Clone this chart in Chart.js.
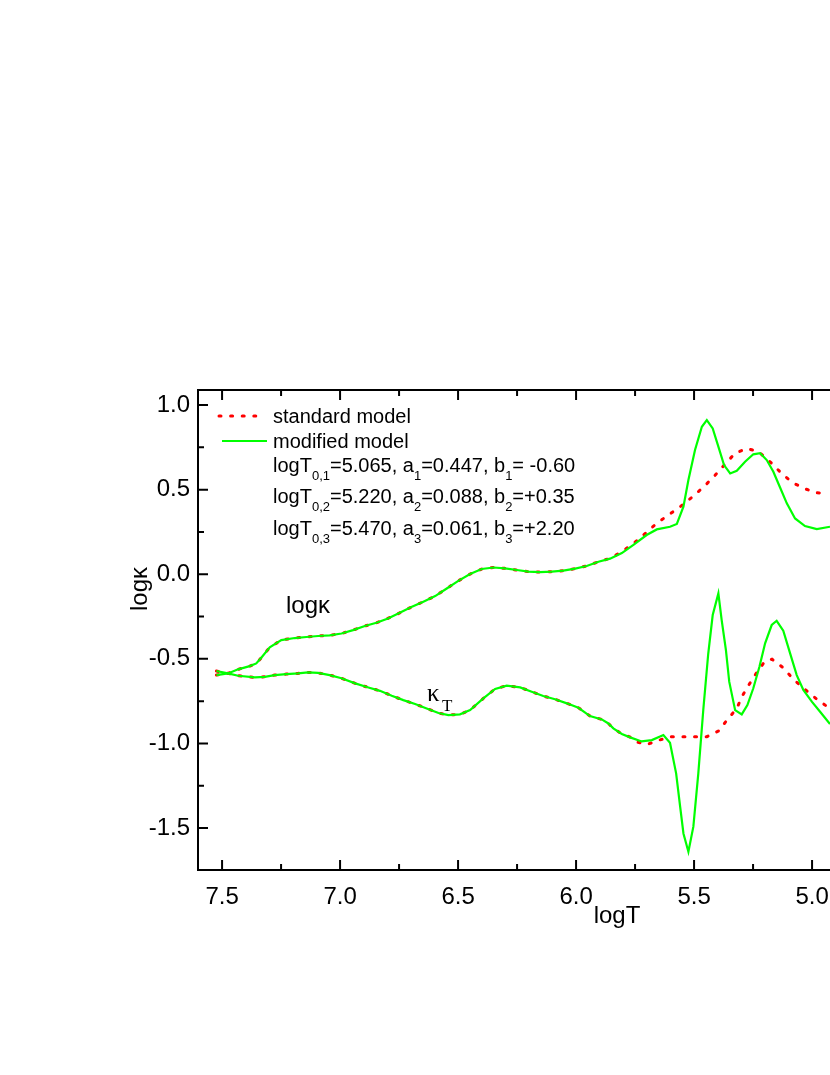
<!DOCTYPE html>
<html>
<head>
<meta charset="utf-8">
<script src="https://cdn.jsdelivr.net/npm/chart.js@4.4.1/dist/chart.umd.min.js"></script>
<style>
  html, body { margin: 0; padding: 0; background: #fff; }
</style>
</head>
<body>
<canvas id="opacityChart" width="830" height="1075"></canvas>
<script>
// --- Data (x = logT, y = log kappa) ---

// standard model, log kappa
const stdKappaT = [7.524, 7.475, 7.432, 7.383, 7.355, 7.333, 7.298, 7.249, 7.192, 7.143, 7.093, 7.044, 6.994, 6.945, 6.895, 6.846, 6.797, 6.747, 6.698, 6.647, 6.597, 6.548, 6.499, 6.449, 6.400, 6.350, 6.301, 6.251, 6.202, 6.153, 6.103, 6.054, 6.004, 5.955, 5.905, 5.856, 5.806, 5.757, 5.708, 5.658, 5.609, 5.559, 5.510, 5.461, 5.414, 5.369, 5.326, 5.277, 5.227, 5.178, 5.129, 5.082, 5.034, 4.987, 4.938];
const stdKappa = [-0.596, -0.586, -0.562, -0.543, -0.527, -0.492, -0.432, -0.389, -0.377, -0.371, -0.365, -0.361, -0.350, -0.330, -0.306, -0.287, -0.261, -0.228, -0.194, -0.162, -0.129, -0.084, -0.039, 0.001, 0.031, 0.040, 0.035, 0.025, 0.015, 0.013, 0.015, 0.021, 0.033, 0.049, 0.074, 0.094, 0.133, 0.182, 0.240, 0.301, 0.350, 0.399, 0.454, 0.514, 0.580, 0.651, 0.715, 0.744, 0.724, 0.665, 0.596, 0.541, 0.508, 0.482, 0.478];

// modified model, log kappa
const modKappaT = [7.524, 7.475, 7.432, 7.383, 7.355, 7.333, 7.298, 7.249, 7.192, 7.143, 7.093, 7.044, 6.994, 6.945, 6.895, 6.846, 6.797, 6.747, 6.698, 6.647, 6.597, 6.548, 6.499, 6.449, 6.400, 6.350, 6.301, 6.251, 6.202, 6.153, 6.103, 6.054, 6.004, 5.955, 5.905, 5.856, 5.806, 5.757, 5.701, 5.658, 5.602, 5.573, 5.545, 5.524, 5.496, 5.467, 5.446, 5.421, 5.397, 5.373, 5.347, 5.319, 5.284, 5.249, 5.220, 5.192, 5.164, 5.136, 5.107, 5.072, 5.030, 4.980, 4.924];
const modKappa = [-0.596, -0.586, -0.562, -0.543, -0.527, -0.492, -0.432, -0.389, -0.377, -0.371, -0.365, -0.361, -0.350, -0.330, -0.306, -0.287, -0.261, -0.228, -0.194, -0.162, -0.129, -0.084, -0.039, 0.001, 0.031, 0.040, 0.035, 0.025, 0.015, 0.013, 0.015, 0.021, 0.033, 0.049, 0.074, 0.092, 0.125, 0.173, 0.232, 0.265, 0.281, 0.297, 0.399, 0.557, 0.734, 0.872, 0.911, 0.862, 0.754, 0.645, 0.596, 0.612, 0.665, 0.709, 0.715, 0.675, 0.606, 0.514, 0.419, 0.330, 0.285, 0.267, 0.281];

// standard model, kappa_T
const stdKtT = [7.524, 7.475, 7.432, 7.361, 7.319, 7.277, 7.228, 7.178, 7.136, 7.093, 7.044, 6.994, 6.936, 6.880, 6.831, 6.781, 6.732, 6.682, 6.633, 6.583, 6.541, 6.492, 6.449, 6.393, 6.343, 6.294, 6.237, 6.188, 6.139, 6.089, 6.039, 5.990, 5.941, 5.891, 5.863, 5.842, 5.806, 5.771, 5.746, 5.699, 5.647, 5.595, 5.545, 5.496, 5.446, 5.397, 5.358, 5.319, 5.295, 5.266, 5.235, 5.200, 5.170, 5.122, 5.079, 5.030, 4.980, 4.931];
const stdKt = [-0.572, -0.586, -0.600, -0.610, -0.606, -0.596, -0.590, -0.586, -0.580, -0.583, -0.596, -0.615, -0.645, -0.669, -0.689, -0.718, -0.744, -0.767, -0.793, -0.820, -0.832, -0.828, -0.803, -0.734, -0.678, -0.658, -0.669, -0.694, -0.720, -0.739, -0.763, -0.789, -0.838, -0.858, -0.882, -0.911, -0.944, -0.962, -0.990, -1.006, -0.980, -0.960, -0.960, -0.960, -0.960, -0.927, -0.858, -0.793, -0.718, -0.650, -0.582, -0.515, -0.502, -0.553, -0.621, -0.681, -0.738, -0.787];

// modified model, kappa_T
const modKtT = [7.524, 7.475, 7.432, 7.361, 7.319, 7.277, 7.228, 7.178, 7.136, 7.093, 7.044, 6.994, 6.936, 6.880, 6.831, 6.781, 6.732, 6.682, 6.633, 6.583, 6.541, 6.492, 6.449, 6.393, 6.343, 6.294, 6.237, 6.188, 6.139, 6.089, 6.039, 5.990, 5.941, 5.891, 5.863, 5.842, 5.806, 5.771, 5.722, 5.679, 5.630, 5.602, 5.576, 5.559, 5.545, 5.524, 5.503, 5.482, 5.461, 5.440, 5.421, 5.397, 5.383, 5.365, 5.351, 5.326, 5.298, 5.274, 5.249, 5.223, 5.199, 5.171, 5.150, 5.122, 5.093, 5.065, 5.037, 5.001, 4.966, 4.924];
const modKt = [-0.572, -0.586, -0.600, -0.610, -0.606, -0.596, -0.590, -0.586, -0.580, -0.583, -0.596, -0.615, -0.645, -0.669, -0.689, -0.718, -0.744, -0.767, -0.793, -0.820, -0.832, -0.828, -0.803, -0.734, -0.678, -0.658, -0.669, -0.694, -0.720, -0.739, -0.763, -0.789, -0.838, -0.858, -0.882, -0.911, -0.944, -0.964, -0.988, -0.980, -0.950, -0.996, -1.177, -1.374, -1.532, -1.640, -1.492, -1.177, -0.803, -0.470, -0.241, -0.113, -0.271, -0.448, -0.635, -0.803, -0.828, -0.773, -0.674, -0.547, -0.408, -0.300, -0.275, -0.334, -0.468, -0.596, -0.684, -0.753, -0.813, -0.885];

// axis ranges and ticks
const xRange = [4.924, 7.602];
const yRange = [-1.748, 1.089];
const tickStep = 0.25;

// legend / annotation texts (subscripts marked with `sub`)
const legendLabels = ['standard model', 'modified model'];
const paramLines = [
  [['logT'], ['0,1', 'sub'], ['=5.065, a'], ['1', 'sub'], ['=0.447, b'], ['1', 'sub'], ['= -0.60']],
  [['logT'], ['0,2', 'sub'], ['=5.220, a'], ['2', 'sub'], ['=0.088, b'], ['2', 'sub'], ['=+0.35']],
  [['logT'], ['0,3', 'sub'], ['=5.470, a'], ['3', 'sub'], ['=0.061, b'], ['3', 'sub'], ['=+2.20']]
];

const SANS = '"Liberation Sans", Arial, sans-serif';
const SERIF = '"Liberation Serif", "Times New Roman", serif';
const RED = '#ff0000';
const GREEN = '#00ff00';

function toPoints(xs, ys) {
  return xs.map((x, i) => ({ x, y: ys[i] }));
}

function isMajor(v) {
  return Math.abs(v * 2 - Math.round(v * 2)) < 1e-6;
}

const greenStyle = { borderColor: GREEN, borderWidth: 2.2 };
const redStyle = { borderColor: RED, borderWidth: 3, borderDash: [2, 9.6], borderCapStyle: 'round' };

/**
 * Frame, inward ticks, legend and labels
 */
const decorPlugin = {
  id: 'decor',
  afterDraw(chart) {
    const { ctx, chartArea: a, scales } = chart;
    const xs = scales.x, ys = scales.y;
    ctx.save();

    // frame (left, top, bottom) - right side is cut off in the original
    ctx.strokeStyle = '#000';
    ctx.lineWidth = 2;
    ctx.beginPath();
    ctx.moveTo(a.right + 2, a.top);
    ctx.lineTo(a.left, a.top);
    ctx.lineTo(a.left, a.bottom);
    ctx.lineTo(a.right + 2, a.bottom);
    ctx.stroke();

    // inward tick marks
    ctx.beginPath();
    xs.ticks.forEach(t => {
      const px = xs.getPixelForValue(t.value);
      const len = isMajor(t.value) ? 10 : 6;
      ctx.moveTo(px, a.bottom); ctx.lineTo(px, a.bottom - len);
      ctx.moveTo(px, a.top); ctx.lineTo(px, a.top + len);
    });
    ys.ticks.forEach(t => {
      const py = ys.getPixelForValue(t.value);
      const len = isMajor(t.value) ? 10 : 6;
      ctx.moveTo(a.left, py); ctx.lineTo(a.left + len, py);
    });
    ctx.stroke();

    // legend samples
    const sets = chart.data.datasets;
    const samples = [
      { ds: sets[2], x0: 219, x1: 259, y: 416 },
      { ds: sets[0], x0: 222, x1: 267, y: 441 }
    ];
    samples.forEach(s => {
      ctx.beginPath();
      ctx.strokeStyle = s.ds.borderColor;
      ctx.lineWidth = s.ds.borderWidth;
      ctx.setLineDash(s.ds.borderDash || []);
      ctx.lineCap = s.ds.borderCapStyle || 'butt';
      ctx.moveTo(s.x0, s.y);
      ctx.lineTo(s.x1, s.y);
      ctx.stroke();
    });
    ctx.setLineDash([]);

    ctx.fillStyle = '#000';
    ctx.textBaseline = 'middle';
    ctx.textAlign = 'left';
    ctx.font = `20px ${SANS}`;
    ctx.fillText(legendLabels[0], 273, 417);
    ctx.fillText(legendLabels[1], 273, 442);

    // parameter lines with subscripts
    const lineY = [466, 497, 529];
    paramLines.forEach((parts, i) => {
      let x = 273;
      parts.forEach(([txt, kind]) => {
        const sub = kind === 'sub';
        ctx.font = sub ? `13px ${SANS}` : `20px ${SANS}`;
        ctx.fillText(txt, x, lineY[i] + (sub ? 10 : 0));
        x += ctx.measureText(txt).width;
      });
    });

    // curve labels
    ctx.font = `24px ${SANS}`;
    ctx.fillText('logκ', 286, 606);
    ctx.font = `25px ${SERIF}`;
    ctx.fillText('κ', 427, 694);
    ctx.font = `17px ${SERIF}`;
    ctx.fillText('T', 442, 707);

    // axis titles
    ctx.font = `24px ${SANS}`;
    ctx.textAlign = 'center';
    ctx.fillText('logT', 617, 916);
    ctx.translate(140, 589);
    ctx.rotate(-Math.PI / 2);
    ctx.fillText('logκ', 0, 0);

    ctx.restore();
  }
};

const ctx = document.getElementById('opacityChart').getContext('2d');

new Chart(ctx, {
  type: 'scatter',
  data: {
    datasets: [
      { label: 'modified logκ', data: toPoints(modKappaT, modKappa), ...greenStyle },
      { label: 'modified κT', data: toPoints(modKtT, modKt), ...greenStyle },
      { label: 'standard logκ', data: toPoints(stdKappaT, stdKappa), ...redStyle },
      { label: 'standard κT', data: toPoints(stdKtT, stdKt), ...redStyle }
    ].map(ds => ({ ...ds, showLine: true, pointRadius: 0, tension: 0, fill: false }))
  },
  options: {
    responsive: false,
    animation: false,
    devicePixelRatio: 1,
    layout: { padding: { top: 390, bottom: 145, left: 0, right: 0 } },
    plugins: {
      legend: { display: false },
      tooltip: { enabled: false }
    },
    scales: {
      x: {
        type: 'linear',
        reverse: true,
        min: xRange[0],
        max: xRange[1],
        border: { display: false },
        grid: { display: false, drawTicks: false },
        afterFit: scale => {
          scale.height = 60;
          scale.paddingLeft = 0;
          scale.paddingRight = 0;
        },
        ticks: {
          stepSize: tickStep,
          includeBounds: false,
          autoSkip: false,
          maxRotation: 0,
          padding: 13,
          color: '#000',
          font: { family: SANS, size: 24 },
          callback: v => (isMajor(v) ? v.toFixed(1) : '')
        }
      },
      y: {
        type: 'linear',
        min: yRange[0],
        max: yRange[1],
        border: { display: false },
        grid: { display: false, drawTicks: false },
        afterFit: scale => {
          scale.width = 198;
          scale.paddingTop = 0;
          scale.paddingBottom = 0;
        },
        ticks: {
          stepSize: tickStep,
          includeBounds: false,
          autoSkip: false,
          padding: 8,
          color: '#000',
          font: { family: SANS, size: 24 },
          callback: v => (isMajor(v) ? v.toFixed(1) : '')
        }
      }
    }
  },
  plugins: [decorPlugin]
});
</script>
</body>
</html>
